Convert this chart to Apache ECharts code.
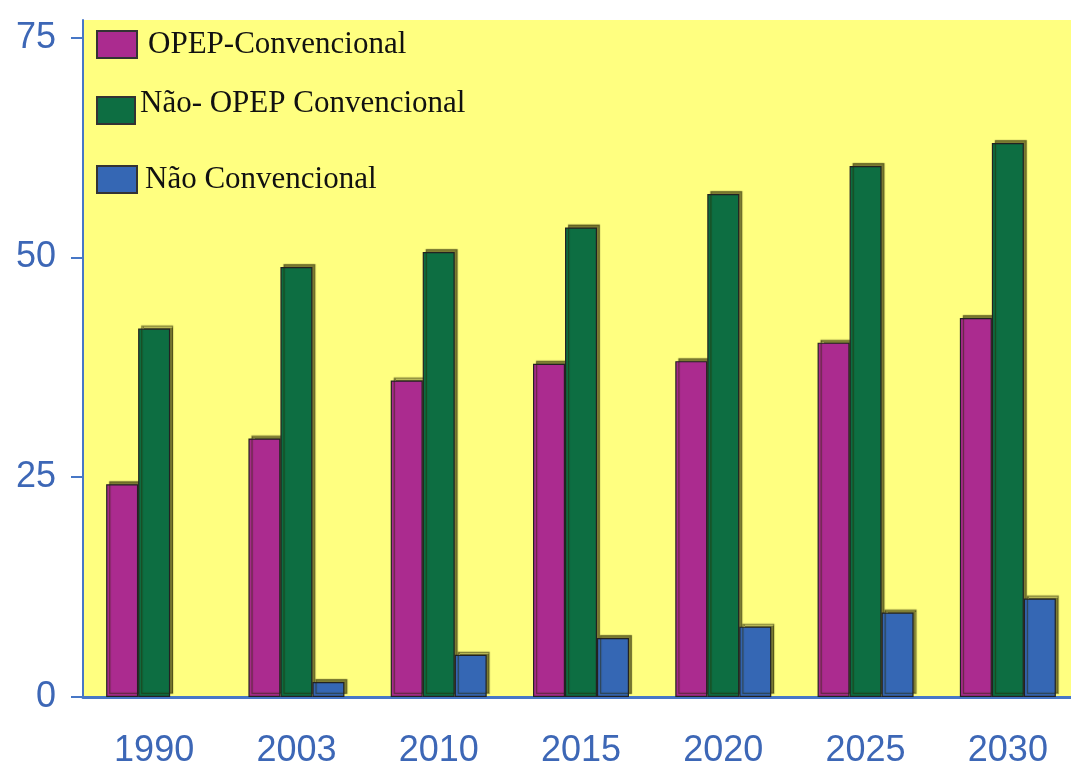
<!DOCTYPE html>
<html>
<head>
<meta charset="utf-8">
<script src="https://cdn.jsdelivr.net/npm/echarts@6/dist/echarts.min.js"></script>
<style>html,body{margin:0;padding:0;background:#fff}#c{width:1071px;height:765px}</style>
</head>
<body>
<div id="c"></div>
<script>
var categories = ['1990', '2003', '2010', '2015', '2020', '2025', '2030'];
var opepConv = [24.2, 29.4, 36.0, 37.9, 38.2, 40.3, 43.1];
var naoOpepConv = [41.9, 48.9, 50.6, 53.4, 57.2, 60.4, 63.0];
var naoConv = [null, 1.7, 4.8, 6.7, 8.0, 9.6, 11.2];
var yTicks = [0, 25, 50, 75];
var seriesNames = ['OPEP-Convencional', 'Não- OPEP Convencional', 'Não Convencional'];

var colors = ['#ab2b8f', '#0d6e42', '#3567b4'];
var axisBlue = '#4777c6';
var labelBlue = '#3d67b6';

var chart = echarts.init(document.getElementById('c'), null, {renderer: 'canvas'});

function barStyle(c) {
  return {
    color: c,
    borderColor: '#222',
    borderWidth: 1.2,
    shadowColor: 'rgba(40,40,0,0.6)',
    shadowOffsetX: 3,
    shadowOffsetY: -3,
    shadowBlur: 1
  };
}

function legendFor(i, left, top, iw, pad) {
  return {
    data: [seriesNames[i]],
    left: left,
    top: top,
    itemWidth: iw,
    itemHeight: 27,
    itemGap: 0,
    padding: 0,
    icon: 'rect',
    formatter: '{a|{name}}',
    itemStyle: {color: colors[i], borderColor: '#333', borderWidth: 2, shadowBlur: 0, shadowColor: 'transparent', shadowOffsetX: 0, shadowOffsetY: 0},
    textStyle: {
      fontFamily: 'Liberation Serif', fontSize: 31, color: '#111',
      rich: {a: {fontFamily: 'Liberation Serif', fontSize: 31, color: '#111', padding: pad}}
    },
    selectedMode: false
  };
}

var option = {
  animation: false,
  backgroundColor: '#ffffff',
  grid: {left: 83, right: -8, top: 20, bottom: 68, outerBoundsMode: 'none', containLabel: false, show: true, backgroundColor: '#ffff80', borderWidth: 0},
  legend: [
    legendFor(0, 96, 29, 40, [0, 0, 0, 6]),
    legendFor(1, 96, 88, 38, [0, 0, 14, 0]),
    legendFor(2, 96, 164, 40, [0, 0, 0, 3])
  ],
  xAxis: {
    type: 'category',
    data: categories,
    axisLine: {lineStyle: {color: axisBlue, width: 3}},
    axisTick: {alignWithLabel: true, length: 12, lineStyle: {color: axisBlue, width: 2}},
    axisLabel: {color: labelBlue, fontFamily: 'Liberation Sans', fontSize: 36, margin: 36},
    splitLine: {show: false}
  },
  yAxis: {
    type: 'value',
    min: 0,
    max: 77,
    interval: 25,
    axisLine: {show: true, lineStyle: {color: axisBlue, width: 2}},
    axisTick: {show: true, length: 12, customValues: yTicks, lineStyle: {color: axisBlue, width: 2}},
    axisLabel: {color: labelBlue, fontFamily: 'Liberation Sans', fontSize: 36, margin: 27, customValues: yTicks},
    splitLine: {show: false}
  },
  series: [
    {name: seriesNames[0], type: 'bar', data: opepConv, barWidth: 32, barGap: '0%', itemStyle: barStyle(colors[0])},
    {name: seriesNames[1], type: 'bar', data: naoOpepConv, barWidth: 32, barGap: '0%', itemStyle: barStyle(colors[1])},
    {name: seriesNames[2], type: 'bar', data: naoConv, barWidth: 32, barGap: '0%', itemStyle: barStyle(colors[2])}
  ]
};
chart.setOption(option);
</script>
</body>
</html>
